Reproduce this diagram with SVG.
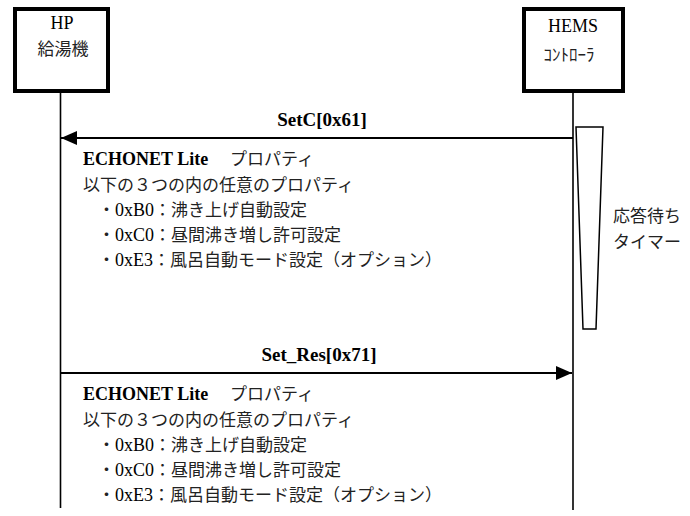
<svg xmlns="http://www.w3.org/2000/svg" width="690" height="516" viewBox="0 0 690 516">
<style>
.box{fill:#fff;stroke:#000;stroke-width:4}
.life{stroke:#000;stroke-width:1.6;fill:none}
.msg{stroke:#000;stroke-width:2;fill:none}
.t{font-family:"Liberation Serif","Noto Sans CJK JP",serif;font-size:18px;fill:#000}
.jp{font-family:"Noto Sans CJK JP",sans-serif;font-size:17px;fill:#222}
.b{font-weight:bold}
.lbl{font-family:"Liberation Serif","Noto Sans CJK JP",serif;font-size:19px;font-weight:bold;fill:#000;text-anchor:middle}
</style>
<defs>
<marker id="ah" viewBox="0 0 16 14" refX="16" refY="7" markerWidth="16" markerHeight="14" markerUnits="userSpaceOnUse" orient="auto">
<path d="M0,0 L16,7 L0,14 Z" fill="#000"/>
</marker>
</defs>
<rect width="690" height="516" fill="#fff"/>
<g id="hp">
<rect class="box" x="15" y="9" width="93" height="82"/>
<text class="t" x="62" y="29" text-anchor="middle" font-size="18">HP</text>
<text class="jp" x="63" y="55" text-anchor="middle" font-size="16">給湯機</text>
</g>
<g id="hems">
<rect class="box" x="524" y="9" width="99" height="82"/>
<text class="t" x="573" y="32" text-anchor="middle" font-size="21">HEMS</text>
<text class="jp" x="569" y="61" text-anchor="middle" font-size="17">ｺﾝﾄﾛｰﾗ</text>
</g>
<g id="timer">
<polygon points="576,127 603,127 596,329 583,329" fill="#fff" stroke="#000" stroke-width="1.5"/>
<text class="jp" x="613" y="222" font-size="18">応答待ち</text>
<text class="jp" x="613" y="248" font-size="18">タイマー</text>
</g>
<g id="connectors">
<line class="life" x1="60.5" y1="91" x2="60.5" y2="508"/>
<line class="life" x1="573" y1="91" x2="573" y2="510"/>
<line class="msg" x1="573" y1="138" x2="61" y2="138" marker-end="url(#ah)"/>
<line class="msg" x1="60" y1="373" x2="572" y2="373" marker-end="url(#ah)"/>
</g>
<g id="msg1">
<text class="lbl" x="322" y="126">SetC[0x61]</text>
<text class="t b" x="83" y="165" font-size="18.5">ECHONET Lite</text>
<text class="jp" x="230" y="165" font-size="18" fill="#000">プロパティ</text>
<text class="jp" x="83" y="191" font-size="18">以下の３つの内の任意のプロパティ</text>
<text class="t" x="98" y="216"><tspan class="jp" font-size="18">・</tspan>0xB0<tspan class="jp" font-size="18">：沸き上げ自動設定</tspan></text>
<text class="t" x="98" y="241"><tspan class="jp" font-size="18">・</tspan>0xC0<tspan class="jp" font-size="18">：昼間沸き増し許可設定</tspan></text>
<text class="t" x="98" y="266"><tspan class="jp" font-size="18">・</tspan>0xE3<tspan class="jp" font-size="18">：風呂自動モード設定（オプション）</tspan></text>
</g>
<g id="msg2">
<text class="lbl" x="319" y="361">Set_Res[0x71]</text>
<text class="t b" x="83" y="400" font-size="18.5">ECHONET Lite</text>
<text class="jp" x="230" y="400" font-size="18" fill="#000">プロパティ</text>
<text class="jp" x="83" y="426" font-size="18">以下の３つの内の任意のプロパティ</text>
<text class="t" x="98" y="451"><tspan class="jp" font-size="18">・</tspan>0xB0<tspan class="jp" font-size="18">：沸き上げ自動設定</tspan></text>
<text class="t" x="98" y="476"><tspan class="jp" font-size="18">・</tspan>0xC0<tspan class="jp" font-size="18">：昼間沸き増し許可設定</tspan></text>
<text class="t" x="98" y="501"><tspan class="jp" font-size="18">・</tspan>0xE3<tspan class="jp" font-size="18">：風呂自動モード設定（オプション）</tspan></text>
</g>
</svg>
